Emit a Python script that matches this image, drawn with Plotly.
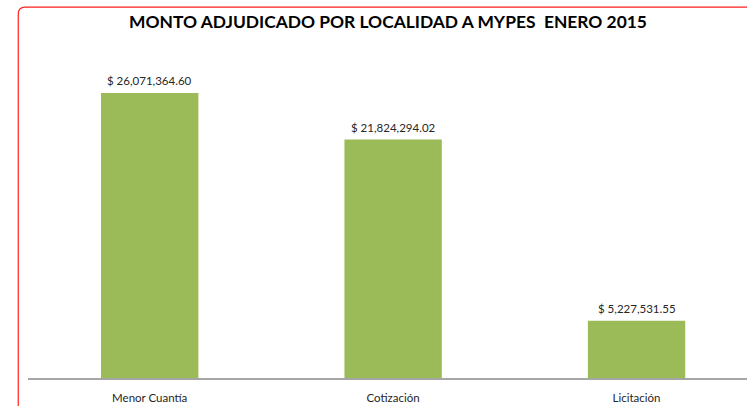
import plotly.graph_objects as go

categories = ["Menor Cuantía", "Cotización", "Licitación"]
values = [26071364.60, 21824294.02, 5227531.55]
labels = ["$ 26,071,364.60", "$ 21,824,294.02", "$ 5,227,531.55"]
title_text = "MONTO ADJUDICADO POR LOCALIDAD A MYPES  ENERO 2015"

W, H = 747, 406
ML, MR, MT, MB = 27.75, 0, 50, H - 378.5
pw = W - ML - MR
ph = H - MT - MB

def px_x(p):
    return (p - ML) / pw

def px_y(p):
    return (H - MB - p) / ph

fig = go.Figure()
fig.add_trace(go.Bar(
    x=categories, y=values,
    marker=dict(color="#9BBB59", line=dict(width=0)),
    width=0.4, cliponaxis=False, hoverinfo="skip",
))
for c, v, t in zip(categories, values, labels):
    fig.add_annotation(x=c, y=v, text=t, showarrow=False, yanchor="middle",
                       yshift=12, font=dict(size=11.5, color="#262626", family="Lato"))

# rounded red frame (top-left corner)
x0 = px_x(18)
yt = px_y(7)
rx = 7 / pw
ry = 7 / ph
path = (f"M {x0},{px_y(420)} L {x0},{yt - ry} "
        f"Q {x0},{yt} {x0 + rx},{yt} L {px_x(770)},{yt}")
fig.add_shape(type="path", path=path, xref="paper", yref="paper",
              line=dict(color="#FF2020", width=1.2))

fig.update_layout(
    width=W, height=H,
    margin=dict(l=ML, r=MR, t=MT, b=MB),
    paper_bgcolor="white", plot_bgcolor="white",
    showlegend=False,
    font=dict(family="Lato", color="#262626"),
    title=dict(text=f"<b>{title_text}</b>", x=388 / W,
               xanchor="center", y=1 - 22 / H, yanchor="middle",
               font=dict(size=17.4, color="black", family="Lato")),
    xaxis=dict(range=[-0.5, -0.5 + pw / 243.5], showline=True,
               linecolor="#A6A6A6", linewidth=1.5, ticks="",
               ticklabelstandoff=8,
               tickfont=dict(size=11.5, color="#262626"), showgrid=False),
    yaxis=dict(range=[0, 30000000 * ph / 328.5], visible=False, showgrid=False),
)

fig.write_html("out.html", config={"displayModeBar": False},
               post_script="document.body.style.margin='0';")
